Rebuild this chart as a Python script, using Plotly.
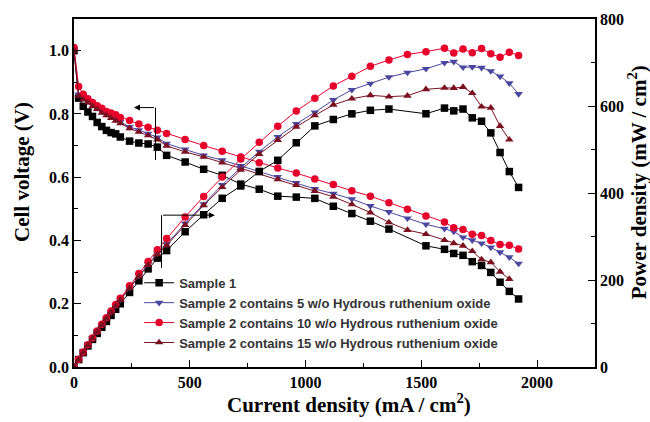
import plotly.graph_objects as go

# Current density (mA/cm2)
current = [0, 20, 40, 60, 80, 100, 120, 140, 160, 180, 200, 240, 280, 320, 360, 400,
           480, 560, 640, 720, 800, 880, 960, 1040, 1120, 1200, 1280, 1360, 1440, 1520,
           1600, 1640, 1680, 1720, 1760, 1800, 1840, 1880, 1920]
current_s1 = [0, 20, 40, 60, 80, 100, 120, 140, 160, 180, 200, 240, 280, 320, 360, 400,
              480, 560, 640, 720, 800, 880, 960, 1040, 1120, 1200, 1280, 1360, 1520,
              1600, 1640, 1680, 1720, 1760, 1800, 1840, 1880, 1920]
current_s15 = current[:-1]

# Cell voltage (V)
v_s1 = [1.00, 0.850, 0.824, 0.806, 0.792, 0.773, 0.760, 0.748, 0.741, 0.737, 0.727, 0.714, 0.708,
        0.705, 0.695, 0.669, 0.648, 0.625, 0.606, 0.578, 0.562, 0.540, 0.537, 0.533, 0.508,
        0.485, 0.461, 0.436, 0.383, 0.372, 0.359, 0.353, 0.333, 0.321, 0.299, 0.268, 0.239, 0.215]
v_s5 = [1.00, 0.862, 0.852, 0.840, 0.829, 0.819, 0.808, 0.800, 0.792, 0.784, 0.775, 0.759, 0.749,
        0.738, 0.726, 0.706, 0.688, 0.669, 0.654, 0.636, 0.619, 0.601, 0.582, 0.563, 0.548,
        0.531, 0.509, 0.490, 0.470, 0.451, 0.437, 0.428, 0.410, 0.401, 0.391, 0.378, 0.363,
        0.347, 0.327]
v_s10 = [1.01, 0.887, 0.862, 0.848, 0.836, 0.826, 0.818, 0.808, 0.803, 0.797, 0.789, 0.779, 0.768,
         0.758, 0.748, 0.738, 0.719, 0.700, 0.682, 0.664, 0.646, 0.629, 0.613, 0.594, 0.577,
         0.557, 0.540, 0.519, 0.499, 0.477, 0.458, 0.440, 0.435, 0.420, 0.416, 0.400, 0.387,
         0.385, 0.373]
v_s15 = [1.00, 0.857, 0.845, 0.836, 0.824, 0.815, 0.803, 0.795, 0.787, 0.778, 0.770, 0.754, 0.743,
         0.732, 0.719, 0.699, 0.680, 0.664, 0.646, 0.629, 0.612, 0.593, 0.575, 0.556, 0.538,
         0.514, 0.488, 0.457, 0.433, 0.420, 0.401, 0.391, 0.383, 0.366, 0.340, 0.331, 0.301, 0.278]

# Power density (mW/cm2)
p_s1 = [0, 17.0, 33.0, 48.4, 63.4, 77.3, 91.2, 104.7, 118.6, 132.7, 145.4, 171.4, 198.2, 225.6,
        250.2, 267.6, 311.0, 350.0, 387.8, 416.2, 449.6, 475.2, 515.5, 554.3, 569.0, 582.0,
        590.1, 593.0, 582.2, 595.2, 588.8, 593.0, 572.8, 565.0, 538.2, 493.1, 449.3, 412.8]
p_s5 = [0, 17.2, 34.1, 50.4, 66.3, 81.9, 97.0, 112.0, 126.7, 141.1, 155.0, 182.2, 209.7, 236.2,
        261.4, 282.4, 330.2, 374.6, 418.6, 457.9, 495.2, 528.9, 558.7, 585.5, 613.8, 637.2,
        651.5, 666.4, 676.8, 685.5, 699.2, 701.9, 688.8, 689.7, 688.2, 680.4, 667.9, 652.4, 627.8]
p_s10 = [0, 17.7, 34.5, 50.9, 66.9, 82.6, 98.2, 113.1, 128.5, 143.5, 157.8, 187.0, 215.0, 242.6,
         269.3, 295.2, 345.1, 392.0, 436.5, 478.1, 516.8, 553.5, 588.5, 617.8, 646.2, 668.4,
         691.2, 705.8, 718.6, 725.0, 732.8, 721.6, 730.8, 722.4, 732.2, 720.0, 712.1, 723.8, 716.2]
p_s15 = [0, 17.1, 33.8, 50.2, 65.9, 81.5, 96.4, 111.3, 125.9, 140.0, 154.0, 181.0, 208.0, 234.2,
         258.8, 279.6, 326.4, 371.8, 413.4, 452.9, 489.6, 521.8, 552.0, 578.2, 602.6, 616.8,
         624.6, 621.5, 623.5, 638.4, 641.6, 641.2, 643.4, 629.5, 598.4, 595.8, 553.8, 522.6]

names = ["Sample 1",
         "Sample 2 contains 5 w/o Hydrous ruthenium oxide",
         "Sample 2 contains 10 w/o Hydrous ruthenium oxide",
         "Sample 2 contains 15 w/o Hydrous ruthenium oxide"]
colors = ["#000000", "#4B47A0", "#E8002D", "#7A1020"]
symbols = ["square", "triangle-down", "circle", "triangle-up"]
xs = [current_s1, current, current, current_s15]
vs = [v_s1, v_s5, v_s10, v_s15]
ps = [p_s1, p_s5, p_s10, p_s15]

fig = go.Figure()
for i in range(4):
    fig.add_trace(go.Scatter(
        x=xs[i], y=vs[i], name=names[i], legendgroup=names[i],
        mode="lines+markers", line=dict(color=colors[i], width=1),
        marker=dict(symbol=symbols[i], size=7.5, color=colors[i]),
        yaxis="y"))
    fig.add_trace(go.Scatter(
        x=xs[i], y=ps[i], name=names[i], legendgroup=names[i], showlegend=False,
        mode="lines+markers", line=dict(color=colors[i], width=1),
        marker=dict(symbol=symbols[i], size=7.5, color=colors[i]),
        yaxis="y2"))

serif = "Liberation Serif, Times New Roman, serif"
tickfont = dict(family=serif, size=16, color="black", weight="bold")
titlefont = dict(family=serif, size=21, color="black", weight="bold")

fig.update_layout(
    width=650, height=422,
    margin=dict(l=74, r=55, t=19, b=55),
    paper_bgcolor="white", plot_bgcolor="white",
    showlegend=True,
    legend=dict(x=0.125, y=0.285, xanchor="left", yanchor="top",
                bgcolor="rgba(0,0,0,0)", borderwidth=0,
                font=dict(family="Liberation Sans, Arial, sans-serif", size=13,
                          color="#333333", weight="bold"),
                tracegroupgap=0, itemwidth=30),
    xaxis=dict(range=[0, 2250], dtick=500, tick0=0, showgrid=False, zeroline=False,
               showline=True, linecolor="black", linewidth=1.5, mirror=True,
               ticks="inside", ticklen=7, tickwidth=1.2, tickcolor="black",
               minor=dict(dtick=250, ticks="inside", ticklen=4, tickcolor="black", tickwidth=1),
               tickfont=tickfont),
    yaxis=dict(range=[0, 1.1], dtick=0.2, tick0=0, tickformat=".1f", showgrid=False,
               zeroline=False, showline=True, linecolor="black", linewidth=1.5,
               ticks="inside", ticklen=7, tickwidth=1.2, tickcolor="black",
               minor=dict(dtick=0.1, ticks="inside", ticklen=4, tickcolor="black", tickwidth=1),
               tickfont=tickfont),
    yaxis2=dict(range=[0, 800], overlaying="y", side="right", dtick=200, tick0=0,
                showgrid=False, zeroline=False, showline=True, linecolor="black", linewidth=1.5,
                ticks="inside", ticklen=7, tickwidth=1.2, tickcolor="black",
                minor=dict(dtick=100, ticks="inside", ticklen=4, tickcolor="black", tickwidth=1),
                tickfont=tickfont),
)

# axis titles placed as annotations to match the original positions
fig.add_annotation(text="Current density (mA / cm<sup>2</sup>)", xref="paper", yref="paper",
                   x=0.528, y=-0.105, xanchor="center", yanchor="middle", showarrow=False,
                   font=titlefont)
fig.add_annotation(text="Cell voltage (V)", xref="paper", yref="paper", textangle=-90,
                   x=-0.1, y=0.56, xanchor="center", yanchor="middle", showarrow=False,
                   font=titlefont)
fig.add_annotation(text="Power density (mW / cm<sup>2</sup>)", xref="paper", yref="paper",
                   textangle=-90, x=1.082, y=0.53, xanchor="center", yanchor="middle",
                   showarrow=False, font=titlefont)

# arrows indicating which axis each family belongs to
fig.add_shape(type="line", xref="x", yref="y", x0=352, x1=352, y0=0.82, y1=0.654,
              line=dict(color="black", width=1))
fig.add_annotation(x=259, y=0.82, ax=352, ay=0.82, xref="x", yref="y", axref="x", ayref="y",
                   text="", showarrow=True, arrowhead=2, arrowsize=1.2, arrowwidth=1,
                   arrowcolor="black")
fig.add_shape(type="line", xref="x", yref="y", x0=378, x1=378, y0=0.313, y1=0.48,
              line=dict(color="black", width=1))
fig.add_annotation(x=608, y=0.48, ax=378, ay=0.48, xref="x", yref="y", axref="x", ayref="y",
                   text="", showarrow=True, arrowhead=2, arrowsize=1.2, arrowwidth=1,
                   arrowcolor="black")

fig.write_html("out.html")
